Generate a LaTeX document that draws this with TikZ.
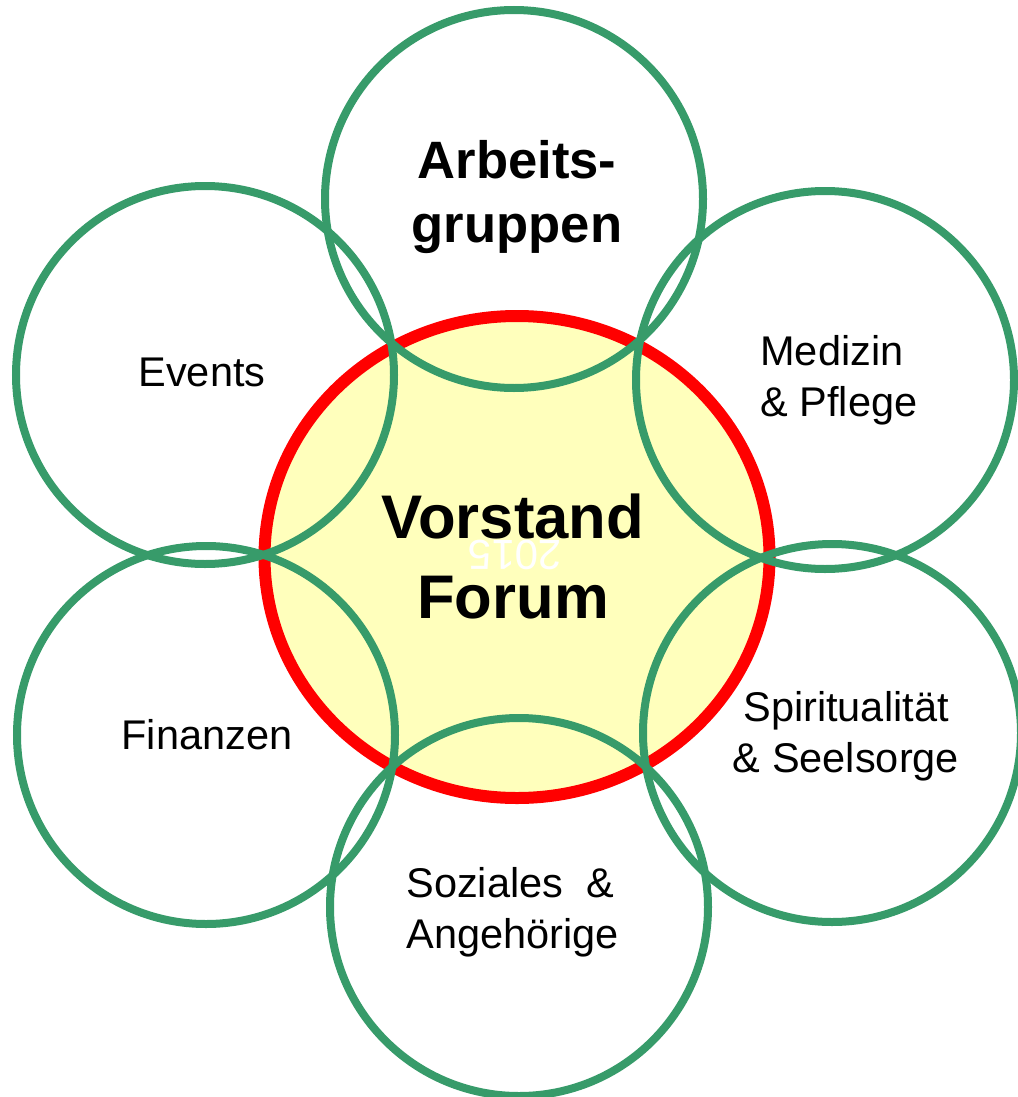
\documentclass[tikz,border=0pt]{standalone}
\usepackage{fontspec}
\setmainfont{Liberation Sans}
\usetikzlibrary{shapes.geometric}
\definecolor{ringgreen}{RGB}{55,155,106}
\definecolor{ringred}{RGB}{255,0,0}
\definecolor{paleyellow}{RGB}{255,255,188}
\begin{document}
\begin{tikzpicture}[x=0.5pt,y=-0.5pt,
  ring/.style={circle, draw=ringgreen, line width=4pt, minimum size=189pt, inner sep=0pt},
  core/.style={ellipse, draw=ringred, line width=6pt, fill=paleyellow, minimum width=252.5pt, minimum height=241pt, inner sep=0pt},
  lbl/.style={font=\fontsize{20.75}{25.5}\selectfont, inner sep=0pt},
  blbl/.style={font=\bfseries\fontsize{26.3}{32}\selectfont, inner sep=0pt, align=center},
  bigbl/.style={font=\bfseries\fontsize{30.8}{40}\selectfont, inner sep=0pt, align=center},
]
\useasboundingbox (0,0) rectangle (1017,1097);
\node[core] (vorstand) at (517,557) {};
\node[ring] (arb) at (514,199) {};
\node[ring] (evt) at (205,375) {};
\node[ring] (med) at (825,380) {};
\node[ring] (spi) at (832,733) {};
\node[ring] (fin) at (206,735) {};
\node[ring] (soz) at (519,907) {};
\node[font=\fontsize{21}{21}\selectfont, text=white, inner sep=0pt, rotate=180] (year) at (515,555) {2015};
\node[blbl, anchor=base] (arbt) at (517,242) {Arbeits-\\gruppen};
\node[bigbl, anchor=base] (vort) at (513,618) {Vorstand\\Forum};
\node[lbl, anchor=base] (evtt) at (202,386) {Events};
\node[lbl, anchor=base west, align=left] (medt) at (760,416) {Medizin\\\& Pflege};
\node[lbl, anchor=base, align=center] (spit) at (846,772) {Spiritualität\\\& Seelsorge};
\node[lbl, anchor=base] (fint) at (207,749) {Finanzen};
\node[lbl, anchor=base west, align=left] (sozt) at (406,948) {Soziales\ \ \&\\Angehörige};
\end{tikzpicture}
\end{document}
